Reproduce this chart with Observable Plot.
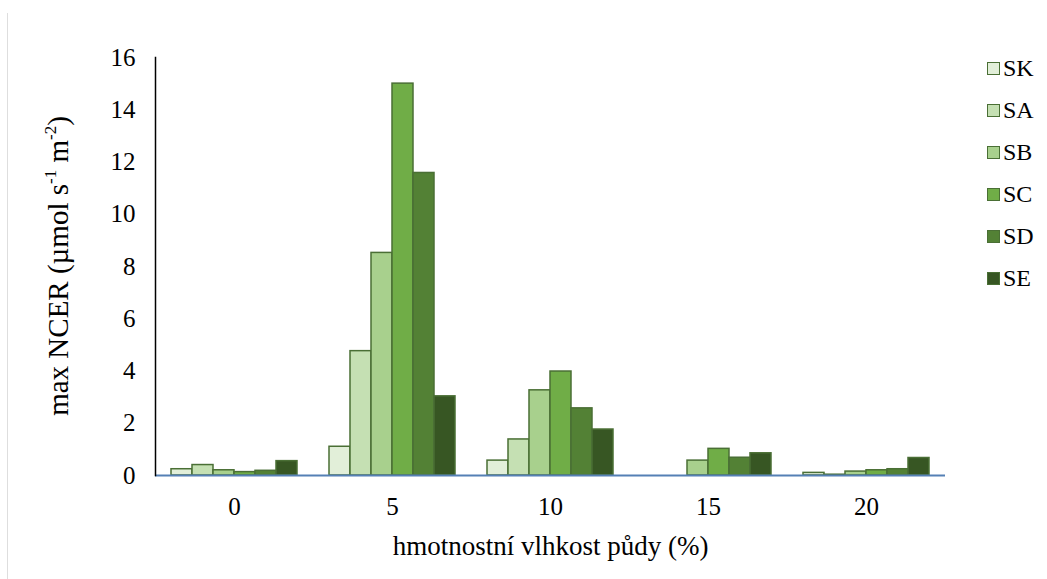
<!DOCTYPE html>
<html><head><meta charset="utf-8">
<script src="https://cdn.jsdelivr.net/npm/d3@7"></script>
<script src="https://cdn.jsdelivr.net/npm/@observablehq/plot@0.6"></script>
<style>
body{margin:0;background:#fff;}
#wrap{position:relative;width:1047px;height:579px;font-family:"Liberation Serif","Times New Roman",Times,"DejaVu Serif",serif;color:#000;}
#edge{position:absolute;left:7px;top:13px;width:1px;height:566px;background:#dedede;}
#ytitle{position:absolute;left:58px;top:266px;transform:translate(-50%,-50%) rotate(-90deg);white-space:nowrap;font-size:29px;}
#ytitle sup{font-size:17px;vertical-align:12px;line-height:0;}
#legend{position:absolute;left:987px;top:47px;}
.item{height:42px;display:flex;align-items:center;font-size:24px;margin-top:0;}
.sw{width:11px;height:11px;border:1.5px solid #4a6f35;margin-right:3px;flex:none;}
svg{position:absolute;left:0;top:0;}
svg g[aria-label="y-axis tick label"], svg g[aria-label="fx-axis tick label"]{font-size:25px !important;}
</style></head><body>
<div id="wrap"><div id="edge"></div></div>
<script>
const moistures = [0, 5, 10, 15, 20];
const series = ["SK", "SA", "SB", "SC", "SD", "SE"];
const colors = ["#e2efd9", "#c5e0b3", "#a8d08d", "#70ad47", "#538135", "#375623"];
const SK = [0.24, 1.10, 0.57, 0, 0.10];
const SA = [0.40, 4.76, 1.38, 0, 0.03];
const SB = [0.20, 8.52, 3.26, 0.57, 0.15];
const SC = [0.13, 15.0, 3.98, 1.02, 0.20];
const SD = [0.18, 11.58, 2.57, 0.68, 0.24];
const SE = [0.55, 3.03, 1.76, 0.85, 0.67];
const yTicks = [0, 2, 4, 6, 8, 10, 12, 14, 16];
const xTitle = "hmotnostní vlhkost půdy (%)";

const vals = [SK, SA, SB, SC, SD, SE];
const data = moistures.flatMap((m, i) => series.map((s, j) => ({m, s, v: vals[j][i]})));
const serif = '"Liberation Serif","Times New Roman",Times,"DejaVu Serif",serif';

const chart = Plot.plot({
  width: 1047, height: 579,
  marginLeft: 153, marginRight: 100, marginTop: 57, marginBottom: 104,
  style: {fontFamily: serif, fontSize: "26px", color: "#000", background: "transparent"},
  fx: {domain: moistures, paddingInner: 0, paddingOuter: 0},
  x: {domain: series, paddingInner: 0, paddingOuter: 0.73, axis: null},
  y: {domain: [0, 16]},
  color: {domain: series, range: colors},
  marks: [
    Plot.barY(data.filter(d => d.v > 0), {fx: "m", x: "s", y: "v", fill: "s", stroke: "#4a6f35", strokeWidth: 1.5}),
    Plot.ruleY([0], {stroke: "#5580b5", strokeWidth: 2}),
    Plot.axisY({ticks: yTicks, tickSize: 0, tickPadding: 20, label: null, fontFamily: serif, fontSize: 25}),
    Plot.axisFx({anchor: "bottom", tickSize: 0, tickPadding: 22, label: null, fontFamily: serif, fontSize: 25}),
    Plot.axisFx({anchor: "bottom", tickSize: 0, ticks: [], label: xTitle, labelAnchor: "center", labelOffset: 79, fontFamily: serif, fontSize: 27}),
    Plot.frame({anchor: "left", stroke: "#000", strokeWidth: 1.5, facetAnchor: "left"})
  ]
});
const wrap = document.getElementById("wrap");
wrap.appendChild(chart);

const yt = document.createElement("div");
yt.id = "ytitle";
yt.innerHTML = "max NCER (µmol s<sup>-1</sup> m<sup>-2</sup>)";
wrap.appendChild(yt);

const lg = document.createElement("div");
lg.id = "legend";
series.forEach((s, i) => {
  const it = document.createElement("div");
  it.className = "item";
  const sw = document.createElement("span");
  sw.className = "sw";
  sw.style.background = colors[i];
  it.appendChild(sw);
  it.appendChild(document.createTextNode(s));
  lg.appendChild(it);
});
wrap.appendChild(lg);
</script>
</body></html>
